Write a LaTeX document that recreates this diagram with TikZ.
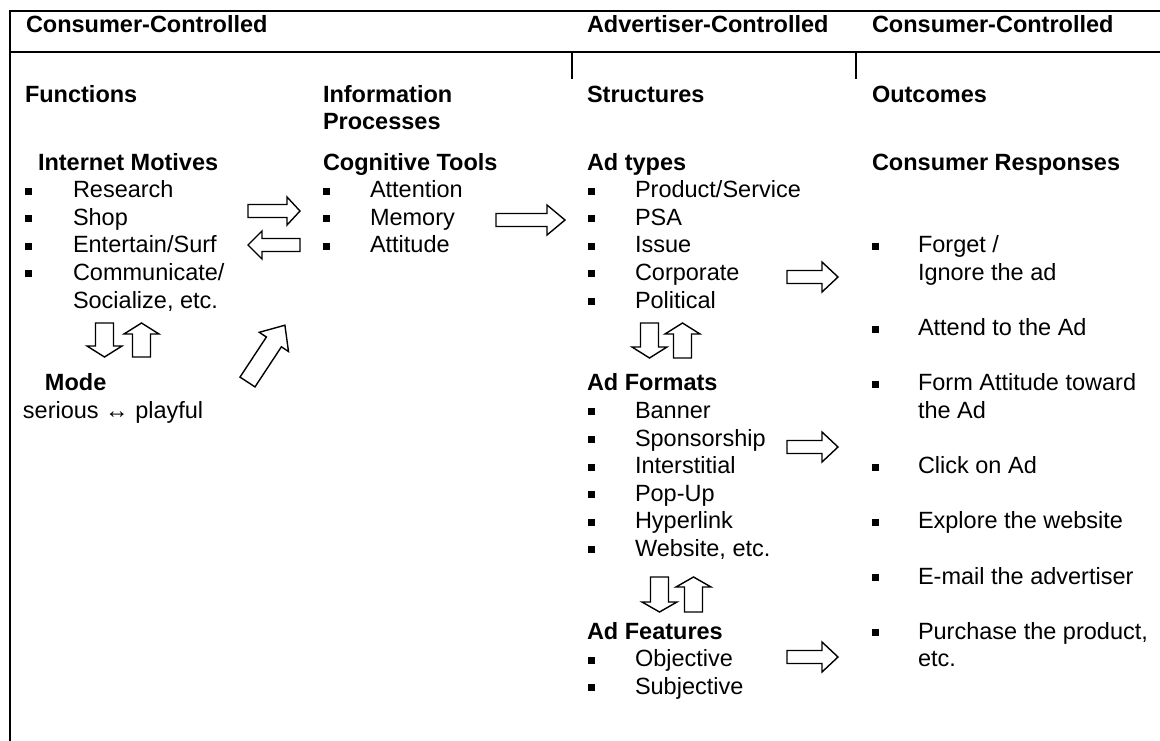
\documentclass[tikz,border=0pt]{standalone}
\usepackage{fontspec}
\setmainfont{Liberation Sans}
\tikzset{
  txt/.style={anchor=base west, inner sep=0pt, outer sep=0pt, font=\fontsize{23.5}{27.6}\selectfont},
  hd/.style={txt, font=\fontsize{23.5}{27.6}\selectfont\bfseries},
  frameline/.style={line width=2.5pt},
  tickline/.style={line width=1.5pt},
  blockarrow/.style={draw, line width=1.4pt, fill=white, line join=miter},
}
% bullet: x left, baseline y
\newcommand\mybullet[2]{\fill ({#1},{#2-10}) rectangle ({#1+7},{#2-3});}
% horizontal block arrow: tail x, tip x, y, head length (signed), head half width
\newcommand\myharrow[5]{\draw[blockarrow] ({#1},{#3-6.5}) -- ({#2-(#4)},{#3-6.5}) -- ({#2-(#4)},{#3-(#5)}) -- ({#2},{#3}) -- ({#2-(#4)},{#3+(#5)}) -- ({#2-(#4)},{#3+6.5}) -- ({#1},{#3+6.5}) -- cycle;}
% vertical block arrow: x centre, tail y, tip y, head length (signed, positive = down)
\newcommand\myvarrow[4]{\draw[blockarrow] ({#1-9},{#2}) -- ({#1-9},{#3-(#4)}) -- ({#1-17.5},{#3-(#4)}) -- ({#1},{#3}) -- ({#1+17.5},{#3-(#4)}) -- ({#1+9},{#3-(#4)}) -- ({#1+9},{#2}) -- cycle;}
\begin{document}
\begin{tikzpicture}[x=1pt,y=-1pt]
\useasboundingbox (0,0) rectangle (1160,740);
\fill[white] (0,0) rectangle (1160,740);
% frame
\draw[frameline] (10,741) -- (10,11) -- (1161,11);
\draw[frameline] (10,52) -- (1161,52);
\draw[tickline] (572,52) -- (572,79);
\draw[tickline] (856,52) -- (856,79);
% header row
\node[hd] (cc1) at (26,32) {Consumer-Controlled};
\node[hd] (ac) at (587,32) {Advertiser-Controlled};
\node[hd] (cc2) at (872,32) {Consumer-Controlled};
% column heads
\node[hd] (fun) at (25,102) {Functions};
\node[hd] (inf) at (323,102) {Information};
\node[hd] (proc) at (323,129) {Processes};
\node[hd] (str) at (587,102) {Structures};
\node[hd] (out) at (872,102) {Outcomes};
\node[hd] (im) at (38,170) {Internet Motives};
\node[hd] (ct) at (323,170) {Cognitive Tools};
\node[hd] (at) at (587,170) {Ad types};
\node[hd] (cr) at (872,170) {Consumer Responses};
% left column
\mybullet{25}{197.6}\node[txt] (l1) at (73,197.6) {Research};
\mybullet{25}{225.2}\node[txt] (l2) at (73,225.2) {Shop};
\mybullet{25}{252.8}\node[txt] (l3) at (73,252.8) {Entertain/Surf};
\mybullet{25}{280.4}\node[txt] (l4) at (73,280.4) {Communicate/};
\node[txt] (l5) at (73,308) {Socialize, etc.};
\node[hd] (mode) at (45,390.8) {Mode};
\node[txt] (sp) at (23,418.4) {serious ↔ playful};
% middle column
\mybullet{323}{197.6}\node[txt] (m1) at (370,197.6) {Attention};
\mybullet{323}{225.2}\node[txt] (m2) at (370,225.2) {Memory};
\mybullet{323}{252.8}\node[txt] (m3) at (370,252.8) {Attitude};
% ad column
\mybullet{588}{197.6}\node[txt] (a1) at (635,197.6) {Product/Service};
\mybullet{588}{225.2}\node[txt] (a2) at (635,225.2) {PSA};
\mybullet{588}{252.8}\node[txt] (a3) at (635,252.8) {Issue};
\mybullet{588}{280.4}\node[txt] (a4) at (635,280.4) {Corporate};
\mybullet{588}{308}\node[txt] (a5) at (635,308) {Political};
\node[hd] (af) at (587,390.8) {Ad Formats};
\mybullet{588}{418.4}\node[txt] (f1) at (635,418.4) {Banner};
\mybullet{588}{446}\node[txt] (f2) at (635,446) {Sponsorship};
\mybullet{588}{473.6}\node[txt] (f3) at (635,473.6) {Interstitial};
\mybullet{588}{501.2}\node[txt] (f4) at (635,501.2) {Pop-Up};
\mybullet{588}{528.8}\node[txt] (f5) at (635,528.8) {Hyperlink};
\mybullet{588}{556.4}\node[txt] (f6) at (635,556.4) {Website, etc.};
\node[hd] (afe) at (587,639.2) {Ad Features};
\mybullet{588}{666.8}\node[txt] (e1) at (635,666.8) {Objective};
\mybullet{588}{694.4}\node[txt] (e2) at (635,694.4) {Subjective};
% responses
\mybullet{872}{252.8}\node[txt] (r1) at (918,252.8) {Forget /};
\node[txt] (r1b) at (918,280.4) {Ignore the ad};
\mybullet{872}{335.6}\node[txt] (r2) at (918,335.6) {Attend to the Ad};
\mybullet{872}{390.8}\node[txt] (r3) at (918,390.8) {Form Attitude toward};
\node[txt] (r3b) at (918,418.4) {the Ad};
\mybullet{872}{473.6}\node[txt] (r4) at (918,473.6) {Click on Ad};
\mybullet{872}{528.8}\node[txt] (r5) at (918,528.8) {Explore the website};
\mybullet{872}{584}\node[txt] (r6) at (918,584) {E-mail the advertiser};
\mybullet{872}{639.2}\node[txt] (r7) at (918,639.2) {Purchase the product,};
\node[txt] (r7b) at (918,666.8) {etc.};
% block arrows
\myharrow{248}{300}{211}{13}{14}
\myharrow{300}{248}{245}{-14}{14}
\myharrow{496}{565}{220}{18}{15}
\myharrow{787}{838}{277}{16}{15}
\myharrow{787}{838}{447}{16}{15}
\myharrow{787}{838}{657}{16}{15}
\myvarrow{104.5}{323}{357}{11}
\myvarrow{141.5}{357}{323}{-11}
\myvarrow{649.5}{323}{358}{11}
\myvarrow{682.5}{358}{323}{-11}
\myvarrow{659.5}{577}{612}{10}
\myvarrow{693.5}{612}{577}{-10}
% diagonal arrow
\draw[blockarrow] (240.0,377.1) -- (255.0,386.9) -- (281.4,346.8) -- (288.5,351.5) -- (284.9,325.2) -- (259.3,332.3) -- (266.4,337.0) -- cycle;
\end{tikzpicture}
\end{document}
